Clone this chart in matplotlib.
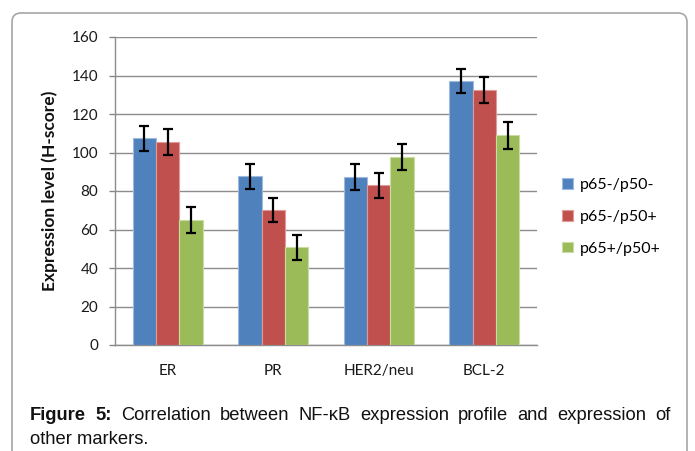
import matplotlib
matplotlib.use("Agg")
import matplotlib.pyplot as plt
import numpy as np
from matplotlib.patches import FancyBboxPatch
from matplotlib.transforms import IdentityTransform

# Data
categories = ["ER", "PR", "HER2/neu", "BCL-2"]
series_names = ["p65-/p50-", "p65-/p50+", "p65+/p50+"]
p65n_p50n = [107.4, 87.6, 87.1, 137.3]
p65n_p50p = [105.5, 70.0, 83.0, 132.6]
p65p_p50p = [64.9, 50.7, 97.8, 109.0]
err_p65n_p50n = [6.5, 6.5, 6.7, 6.3]
err_p65n_p50p = [6.7, 6.3, 6.4, 6.8]
err_p65p_p50p = [6.7, 6.6, 6.8, 7.0]
colors = ["#4F81BD", "#C0504D", "#9BBB59"]
edges = ["#9DB9DE", "#E09A98", "#C9DCA2"]

fig = plt.figure(figsize=(6.95, 4.51), dpi=100)
ax = fig.add_axes([115 / 695, 1 - 345 / 451, (537 - 115) / 695, (345 - 37) / 451])

tick_font = "Lato"
x = np.arange(len(categories))
width = 1 / 4.5
values = [p65n_p50n, p65n_p50p, p65p_p50p]
errors = [err_p65n_p50n, err_p65n_p50p, err_p65p_p50p]
for i, (vals, errs) in enumerate(zip(values, errors)):
    pos = x + (i - 1) * width
    ax.bar(pos, vals, width, color=colors[i], edgecolor=edges[i], linewidth=0.8,
           label=series_names[i], zorder=3)
    ax.errorbar(pos, vals, yerr=errs, fmt="none", ecolor="black", elinewidth=1.6,
                capsize=3.3, capthick=1.6, zorder=4)

ax.set_xlim(-0.5, 3.5)
ax.set_ylim(0, 160)
ax.set_yticks(range(0, 161, 20))
ax.set_xticks(x)
ax.set_xticklabels(categories, fontfamily=tick_font, fontsize=11, color="#1a1a1a")
for lbl in ax.get_yticklabels():
    lbl.set_fontfamily(tick_font)
    lbl.set_fontsize(11)
    lbl.set_color("#1a1a1a")
ax.tick_params(axis="x", length=0, pad=14)
ax.tick_params(axis="y", length=4, width=1, color="#868686", pad=8, direction="out")
ax.grid(axis="y", color="#8C8C8C", linewidth=1, zorder=0)
ax.set_axisbelow(True)
for side in ["top", "right"]:
    ax.spines[side].set_visible(False)
for side in ["left", "bottom"]:
    ax.spines[side].set_color("#8C8C8C")
    ax.spines[side].set_linewidth(1)

ax.set_ylabel("Expression level (H-score)", fontfamily=tick_font, fontweight="bold",
              fontsize=12.5, color="#111111", labelpad=10)

fig.legend(loc="center left", bbox_to_anchor=(548 / 695, 1 - 217 / 451),
           frameon=False, prop={"family": tick_font, "size": 11.5},
           handlelength=0.65, handleheight=0.65, handletextpad=0.45, labelspacing=1.1)

# chart frame with rounded corners, open at the bottom
frame = FancyBboxPatch((12, -30), 675, 451 - 13 + 30,
                       boxstyle="round,pad=0,rounding_size=9",
                       transform=IdentityTransform(), fill=False,
                       edgecolor="#A6A6A6", linewidth=1.2)
fig.patches.append(frame)

# justified caption
cap_font = ["Liberation Sans", "DejaVu Sans"]
cap_size = 13.2
line1 = ["Figure", "5:", "Correlation", "between", "NF-κB", "expression", "profile",
         "and", "expression", "of"]
bold_words = 2
texts = []
for j, w in enumerate(line1):
    t = fig.text(0, 1 - 416 / 451, w, fontsize=cap_size, family=cap_font, va="center",
                 fontweight="bold" if j < bold_words else "normal", color="#111111")
    texts.append(t)
fig.canvas.draw()
r = fig.canvas.get_renderer()
widths = [t.get_window_extent(r).width for t in texts]
left, right = 30, 671
gap = (right - left - sum(widths)) / (len(texts) - 1)
cur = left
for t, wd in zip(texts, widths):
    t.set_x(cur / 695)
    cur += wd + gap
fig.text(30 / 695, 1 - 439 / 451, "other markers.", fontsize=cap_size, family=cap_font,
         va="center", color="#111111")

fig.savefig("out.png", dpi=100)
